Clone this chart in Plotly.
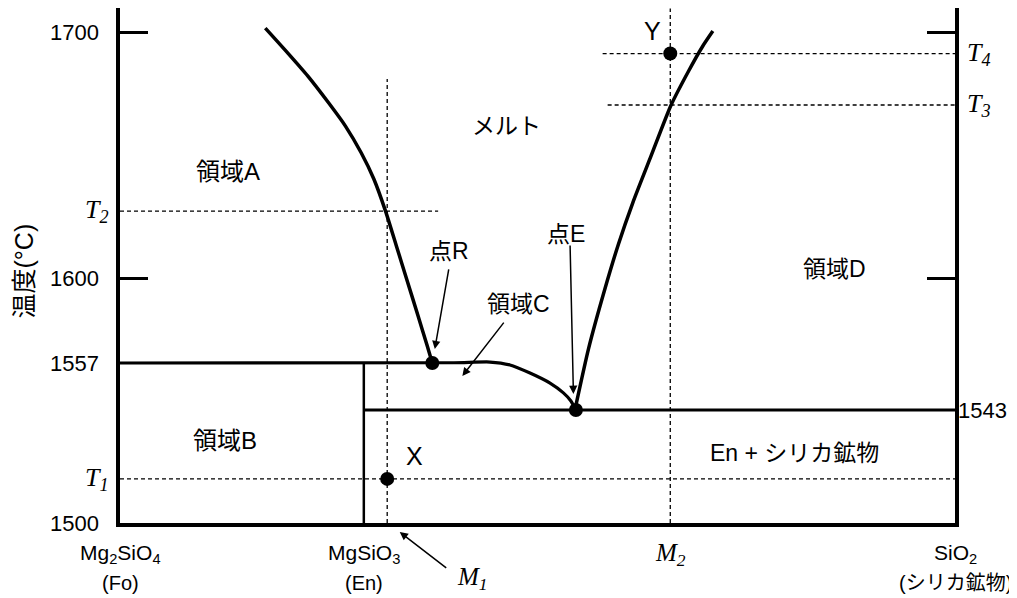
import plotly.graph_objects as go

# composition axis: 0 = Mg2SiO4, 100 = SiO2 ; temperature axis as drawn in the schematic
x_en = 29.2
x_m1 = 32.0
x_m2 = 65.9
t_1557 = 1565.3   # drawn level of the 1557 line
t_1543 = 1546.1   # drawn level of the 1543 line
t1, t2, t3, t4 = 1518.0, 1627.3, 1670.6, 1691.6

liq_left_x = [17.4, 20.1, 22.5, 25.0, 27.0, 28.9, 30.4, 31.8, 33.1, 34.4, 35.7, 36.8, 37.4]
liq_left_t = [1702.0, 1691.8, 1682.4, 1671.4, 1662.0, 1651.0, 1640.4, 1627.3,
              1613.1, 1598.8, 1584.5, 1572.2, 1565.3]

liq_right_x = [54.5, 56.1, 58.0, 59.7, 61.4, 63.6, 66.0, 68.1, 69.8, 71.0]
liq_right_t = [1546.5, 1571.0, 1594.7, 1613.9, 1630.6, 1649.8, 1670.6, 1684.5, 1694.7, 1700.8]

bend_x = [0, 40.0, 44.3, 46.7, 49.1, 51.5, 53.1, 54.0, 54.6]
bend_t = [1565.3, 1565.4, 1565.7, 1564.5, 1561.2, 1557.1, 1553.1, 1549.8, 1546.1]

pt_names = ["R", "E", "X", "Y"]
pt_x = [37.4, 54.6, 32.0, 65.9]
pt_t = [1565.3, 1546.1, 1518.0, 1691.6]

y_ticks = [1600, 1700]
FONT = "Arial, 'Liberation Sans', 'Noto Sans CJK JP', sans-serif"
SERIF = "'Times New Roman', 'Liberation Serif', serif"
K = "black"

fig = go.Figure()


def line(xs, ys, width=3, dash=None, shape="linear"):
    fig.add_trace(go.Scatter(x=xs, y=ys, mode="lines", hoverinfo="skip",
                             line=dict(color=K, width=width, dash=dash, shape=shape,
                                       smoothing=0.6)))


DASH = "4px,3px"
# dashed guide lines
line([x_m1, x_m1], [1500, 1681.2], 1.3, DASH)
line([x_m2, x_m2], [1500, 1710], 1.3, DASH)
line([0, 100], [t1, t1], 1.3, DASH)
line([0, 38.1], [t2, t2], 1.3, DASH)
line([58.4, 100], [t3, t3], 1.3, DASH)
line([57.8, 100], [t4, t4], 1.3, DASH)

# phase boundaries
line(bend_x, bend_t, 3.2, shape="spline")
line([x_en, 100], [t_1543, t_1543], 3)
line([x_en, x_en], [1500, t_1557], 2.5)
line(liq_left_x, liq_left_t, 3.5, shape="spline")
line(liq_right_x, liq_right_t, 3.5, shape="spline")

fig.add_trace(go.Scatter(x=pt_x, y=pt_t, mode="markers", hoverinfo="skip",
                         marker=dict(color=K, size=14)))

ann = []


def text(x, y, s, size=23, **kw):
    d = dict(x=x, y=y, text=s, showarrow=False, font=dict(family=FONT, size=size, color=K))
    d.update(kw)
    ann.append(d)


text(12.9, 1643.3, "領域A", 24)
text(46.3, 1662.0, "メルト")
text(12.6, 1533.5, "領域B", 24)
text(85.6, 1603.7, "領域D")
text(80.8, 1528.6, "En + シリカ鉱物")
text(35.3, 1527.3, "X", 25)
text(63.8, 1700.8, "Y", 25)
text(39.4, 1611.0, "点R")
text(47.7, 1589.4, "領域C")
text(53.4, 1618.0, "点E")

# arrows (head, tail)
for hx, hy, tx, ty in [(37.7, 1571.0, 39.4, 1604.1),
                       (41.0, 1560.0, 46.1, 1582.4),
                       (54.3, 1552.7, 53.9, 1613.9)]:
    ann.append(dict(x=hx, y=hy, ax=tx, ay=ty, axref="x", ayref="y", text="",
                    showarrow=True, arrowhead=2, arrowsize=1.1, arrowwidth=1.5, arrowcolor=K))

# M1 arrow below the axis
ann.append(dict(x=33.5, y=1500, yshift=-9, ax=48, ay=37, text="", showarrow=True,
                arrowhead=2, arrowsize=1.1, arrowwidth=1.5, arrowcolor=K))
ann.append(dict(x=42.2, y=1500, yshift=-55, text="<i>M<sub>1</sub></i>", showarrow=False,
                font=dict(family=SERIF, size=25, color=K)))
ann.append(dict(x=x_m2, y=1500, yshift=-31, text="<i>M<sub>2</sub></i>", showarrow=False,
                font=dict(family=SERIF, size=25, color=K)))

# left labels
for yv, s in [(1700, "1700"), (1600, "1600"), (t_1557, "1557"), (1500, "1500")]:
    text(0, yv, s, 22, xref="paper", xanchor="right", xshift=-19)
for yv, s in [(t2, "T<sub>2</sub>"), (t1, "T<sub>1</sub>")]:
    ann.append(dict(x=0, y=yv, xref="paper", xanchor="right", xshift=-9, text="<i>" + s + "</i>",
                    showarrow=False, font=dict(family=SERIF, size=26, color=K)))
# right labels
text(1, t_1543, "1543", 22, xref="paper", xanchor="left", xshift=1)
for yv, s in [(t4, "T<sub>4</sub>"), (t3, "T<sub>3</sub>")]:
    ann.append(dict(x=1, y=yv, xref="paper", xanchor="left", xshift=10, text="<i>" + s + "</i>",
                    showarrow=False, font=dict(family=SERIF, size=26, color=K)))

# bottom composition labels
for xv, top, bot in [(0, "Mg<sub>2</sub>SiO<sub>4</sub>", "(Fo)"),
                     (x_en, "MgSiO<sub>3</sub>", "(En)"),
                     (100, "SiO<sub>2</sub>", "(シリカ鉱物)")]:
    text(xv, 1500, top, 21, yshift=-31)
    text(xv, 1500, bot, 20, yshift=-60)

text(0, 0.5, "温度(°C)", 25, xref="paper", yref="paper", textangle=-90,
     xanchor="center", xshift=-97, yshift=-6)

# page body has an 8px margin, so the figure is sized to fit inside the window
fig.update_layout(
    width=1009, height=590,
    margin=dict(l=112, r=62, t=0, b=75),
    plot_bgcolor="white", paper_bgcolor="white",
    showlegend=False,
    annotations=ann,
    xaxis=dict(range=[0, 100], showgrid=False, zeroline=False, showticklabels=False,
               ticks="", showline=True, linewidth=4, linecolor=K),
    yaxis=dict(range=[1500, 1710.2], showgrid=False, zeroline=False, showticklabels=False,
               tickvals=y_ticks, ticks="inside", ticklen=28, tickwidth=3, tickcolor=K,
               showline=True, linewidth=4, linecolor=K, mirror="ticks"),
)

fig.write_html("out.html")
